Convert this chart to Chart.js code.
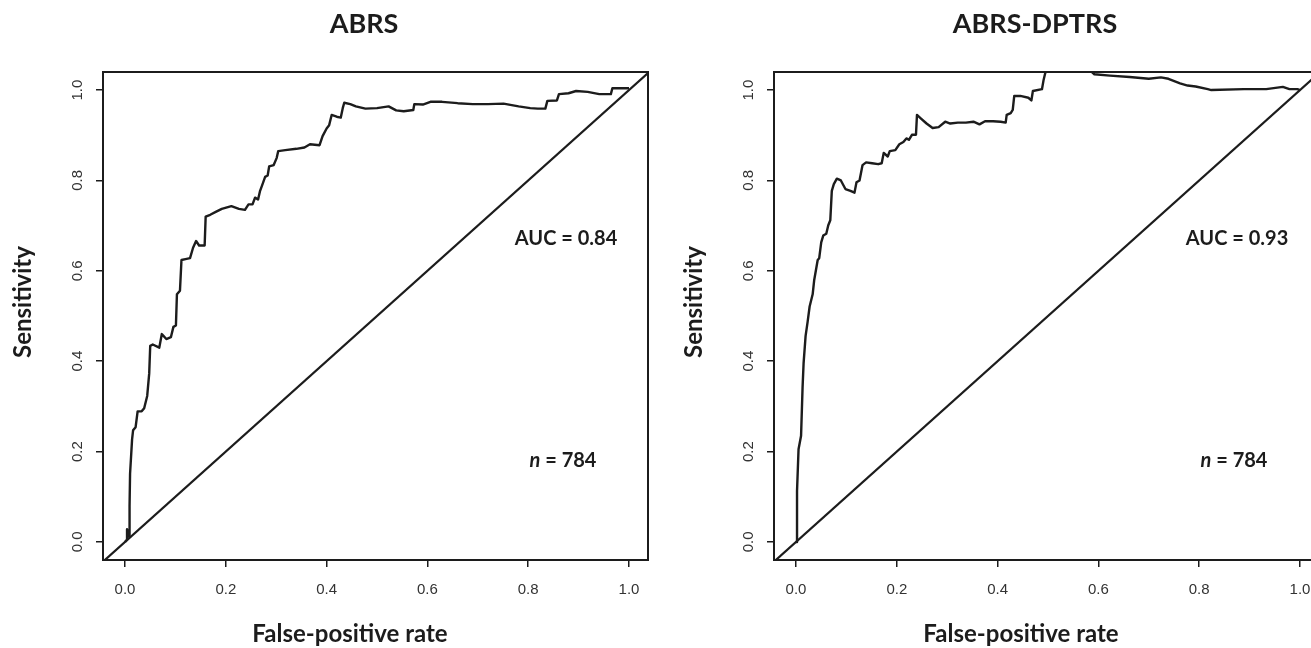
<!DOCTYPE html>
<html>
<head>
<meta charset="utf-8">
<title>ROC curves</title>
<script src="https://cdn.jsdelivr.net/npm/chart.js@4.4.1/dist/chart.umd.min.js"></script>
<style>
  html, body { margin: 0; padding: 0; background: #fff; overflow: hidden; width: 1311px; height: 648px; }
  .panel { position: absolute; top: 0; width: 671px; height: 648px; }
  #left { left: 0; }
  #right { left: 671px; }
</style>
</head>
<body>
<div class="panel" id="left"><canvas id="rocA" width="671" height="648"></canvas></div>
<div class="panel" id="right"><canvas id="rocB" width="671" height="648"></canvas></div>
<script>
const axisTicks = [0, 0.2, 0.4, 0.6, 0.8, 1.0];
const chanceLine = [-0.05, 1.05];

// ABRS curve (false-positive rate vs sensitivity)
const abrsFpr = [0, 0.004, 0.004, 0.007, 0.009, 0.009, 0.010, 0.014, 0.016, 0.021,
  0.025, 0.033, 0.038, 0.044, 0.048, 0.050, 0.055, 0.068, 0.073, 0.082,
  0.091, 0.096, 0.101, 0.103, 0.109, 0.112, 0.120, 0.129, 0.135, 0.141,
  0.147, 0.158, 0.160, 0.169, 0.181, 0.192, 0.211, 0.226, 0.238, 0.245,
  0.253, 0.258, 0.264, 0.268, 0.272, 0.278, 0.283, 0.286, 0.295, 0.301,
  0.304, 0.318, 0.340, 0.356, 0.367, 0.386, 0.392, 0.400, 0.405, 0.410,
  0.420, 0.428, 0.432, 0.435, 0.447, 0.458, 0.477, 0.500, 0.523, 0.538,
  0.553, 0.572, 0.574, 0.591, 0.606, 0.629, 0.660, 0.690, 0.720, 0.751,
  0.781, 0.804, 0.819, 0.834, 0.838, 0.857, 0.861, 0.880, 0.895, 0.918,
  0.941, 0.964, 0.967, 1.0];
const abrsTpr = [0, 0.005, 0.028, 0.012, 0.012, 0.079, 0.151, 0.227, 0.247, 0.254,
  0.289, 0.289, 0.296, 0.323, 0.373, 0.434, 0.437, 0.430, 0.460, 0.449,
  0.453, 0.476, 0.479, 0.548, 0.556, 0.624, 0.626, 0.628, 0.651, 0.666,
  0.656, 0.656, 0.720, 0.724, 0.731, 0.737, 0.743, 0.737, 0.735, 0.747,
  0.747, 0.762, 0.758, 0.777, 0.789, 0.808, 0.811, 0.831, 0.834, 0.850,
  0.865, 0.867, 0.870, 0.873, 0.880, 0.878, 0.898, 0.915, 0.922, 0.945,
  0.941, 0.939, 0.960, 0.972, 0.969, 0.964, 0.959, 0.960, 0.964, 0.955,
  0.953, 0.956, 0.969, 0.968, 0.974, 0.974, 0.971, 0.969, 0.969, 0.970,
  0.964, 0.960, 0.959, 0.959, 0.976, 0.977, 0.991, 0.993, 0.998, 0.996,
  0.991, 0.991, 1.004, 1.004];

// ABRS-DPTRS curve
const dptrsFpr = [0, 0.002, 0.002, 0.005, 0.010, 0.013, 0.015, 0.019, 0.023, 0.027,
  0.033, 0.036, 0.043, 0.046, 0.050, 0.054, 0.060, 0.064, 0.068, 0.071,
  0.075, 0.081, 0.089, 0.098, 0.108, 0.116, 0.120, 0.126, 0.132, 0.139,
  0.151, 0.163, 0.170, 0.174, 0.182, 0.186, 0.197, 0.205, 0.213, 0.219,
  0.224, 0.230, 0.238, 0.240, 0.248, 0.259, 0.271, 0.283, 0.296, 0.306,
  0.321, 0.337, 0.352, 0.364, 0.375, 0.391, 0.406, 0.416, 0.418, 0.426,
  0.430, 0.433, 0.445, 0.461, 0.467, 0.470, 0.488, 0.491, 0.495, 0.520,
  0.550, 0.585, 0.592, 0.623, 0.662, 0.700, 0.724, 0.739, 0.762, 0.777,
  0.793, 0.817, 0.824, 0.889, 0.933, 0.966, 0.979, 0.995, 1.0];
const dptrsTpr = [0, 0, 0.113, 0.205, 0.235, 0.342, 0.395, 0.456, 0.487, 0.521,
  0.548, 0.579, 0.624, 0.628, 0.663, 0.678, 0.682, 0.701, 0.712, 0.777,
  0.792, 0.804, 0.800, 0.781, 0.777, 0.773, 0.796, 0.800, 0.834, 0.840,
  0.838, 0.836, 0.838, 0.861, 0.853, 0.865, 0.867, 0.880, 0.885, 0.893,
  0.890, 0.901, 0.901, 0.945, 0.937, 0.926, 0.916, 0.918, 0.930, 0.926,
  0.928, 0.928, 0.930, 0.924, 0.931, 0.931, 0.930, 0.928, 0.945, 0.949,
  0.956, 0.987, 0.987, 0.983, 0.977, 0.998, 1.002, 1.021, 1.040, 1.043,
  1.044, 1.042, 1.035, 1.032, 1.029, 1.025, 1.028, 1.025, 1.015, 1.010,
  1.008, 1.002, 1.000, 1.002, 1.002, 1.007, 1.002, 1.002, 1.000];

const panelTitles = ['ABRS', 'ABRS-DPTRS'];
const aucValues = [0.84, 0.93];
const sampleSizes = [784, 784];

const INK = '#1c1c1c';
const BOLD = '"Lato", "Open Sans", sans-serif';

// box around the plot area plus titles and annotations
const rocFrame = {
    id: 'rocFrame',
    afterDraw(chart, args, opts) {
        const { ctx, chartArea: a, scales } = chart;
        ctx.save();
        ctx.strokeStyle = INK;
        ctx.lineWidth = 2;
        ctx.strokeRect(a.left, a.top, a.right - a.left, a.bottom - a.top);

        ctx.fillStyle = INK;
        ctx.textAlign = 'center';
        ctx.textBaseline = 'alphabetic';
        ctx.font = `bold 27px ${BOLD}`;
        ctx.fillText(opts.title, a.left + 261, 33);

        ctx.font = `bold 24px ${BOLD}`;
        ctx.fillText('False-positive rate', a.left + 247, 642);

        ctx.save();
        ctx.translate(a.left - 80, 302);
        ctx.rotate(-Math.PI / 2);
        ctx.textBaseline = 'middle';
        ctx.fillText('Sensitivity', 0, 0);
        ctx.restore();

        ctx.font = `bold 20px ${BOLD}`;
        ctx.fillText('AUC = ' + opts.auc.toFixed(2),
            scales.x.getPixelForValue(0.875), scales.y.getPixelForValue(0.657));

        // italic n, then the count, centred as one string
        const nx = scales.x.getPixelForValue(0.869);
        const ny = scales.y.getPixelForValue(0.166);
        const rest = ' = ' + opts.n;
        ctx.font = `italic bold 20px ${BOLD}`;
        const wn = ctx.measureText('n').width;
        ctx.font = `bold 20px ${BOLD}`;
        const wr = ctx.measureText(rest).width;
        const x0 = nx - (wn + wr) / 2;
        ctx.textAlign = 'left';
        ctx.font = `italic bold 20px ${BOLD}`;
        ctx.fillText('n', x0, ny);
        ctx.font = `bold 20px ${BOLD}`;
        ctx.fillText(rest, x0 + wn, ny);
        ctx.restore();
    }
};

function rocChart(id, fpr, tpr, i) {
    const curve = fpr.map((v, k) => ({ x: v, y: tpr[k] }));
    const chance = chanceLine.map(v => ({ x: v, y: v }));
    const tickFont = { family: '"Liberation Sans", Arial, sans-serif', size: 15 };
    const tickGrid = { drawOnChartArea: false, drawTicks: true, tickLength: 7, color: INK, lineWidth: 1.5 };

    return new Chart(document.getElementById(id), {
        type: 'scatter',
        data: {
            datasets: [
                { data: curve, showLine: true, borderColor: INK, borderWidth: 2.4,
                  pointRadius: 0, borderJoinStyle: 'round' },
                { data: chance, showLine: true, borderColor: INK, borderWidth: 2.2, pointRadius: 0 }
            ]
        },
        options: {
            responsive: false,
            animation: false,
            events: [],
            layout: { padding: { top: 72, right: 23, left: 0, bottom: 0 } },
            plugins: {
                legend: { display: false },
                tooltip: { enabled: false },
                rocFrame: { title: panelTitles[i], auc: aucValues[i], n: sampleSizes[i] }
            },
            scales: {
                x: {
                    type: 'linear',
                    min: -0.0437,
                    max: 1.0377,
                    afterBuildTicks: s => { s.ticks = axisTicks.map(v => ({ value: v })); },
                    afterFit: s => { s.height = 88; },
                    border: { display: false },
                    grid: tickGrid,
                    ticks: { font: tickFont, color: '#333', padding: 14, maxRotation: 0,
                             autoSkip: false, callback: v => v.toFixed(1) }
                },
                y: {
                    type: 'linear',
                    min: -0.04,
                    max: 1.04,
                    afterBuildTicks: s => { s.ticks = axisTicks.map(v => ({ value: v })); },
                    afterFit: s => { s.width = 103; },
                    border: { display: false },
                    grid: tickGrid,
                    ticks: { font: tickFont, color: '#333', padding: 8, minRotation: 90, maxRotation: 90,
                             crossAlign: 'center', autoSkip: false, callback: v => v.toFixed(1) }
                }
            }
        },
        plugins: [rocFrame]
    });
}

rocChart('rocA', abrsFpr, abrsTpr, 0);
rocChart('rocB', dptrsFpr, dptrsTpr, 1);
</script>
</body>
</html>
